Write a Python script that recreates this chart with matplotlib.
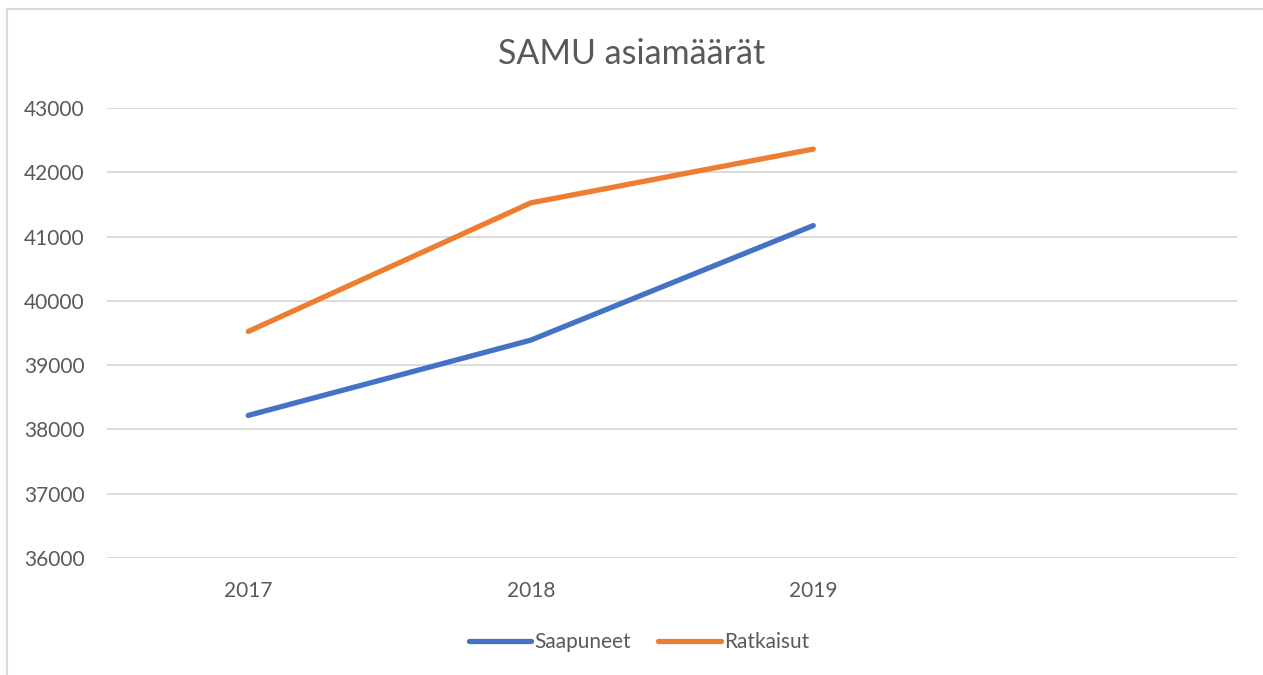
import matplotlib
matplotlib.use("Agg")
import matplotlib.pyplot as plt
from matplotlib.patches import Rectangle

categories = ["2017", "2018", "2019", ""]
saapuneet = [38218, 39389, 41171]
ratkaisut = [39524, 41524, 42361]
yticks = [36000, 37000, 38000, 39000, 40000, 41000, 42000, 43000]

plt.rcParams['font.family'] = ['Lato', 'DejaVu Sans']
txt = '#595959'

fig = plt.figure(figsize=(12.63, 6.75), dpi=100)
ax = fig.add_axes([107/1263, 1-558/675, (1237-107)/1263, (558-108)/675])

x = list(range(len(categories)))
ax.plot(x[:len(saapuneet)], saapuneet, color='#4472C4', lw=3.8, solid_capstyle='round', label='Saapuneet', zorder=3)
ax.plot(x[:len(ratkaisut)], ratkaisut, color='#ED7D31', lw=3.8, solid_capstyle='round', label='Ratkaisut', zorder=3)

ax.set_xlim(-0.5, len(categories) - 0.5)
ax.set_ylim(yticks[0], yticks[-1])
ax.set_yticks(yticks)
ax.set_yticklabels([str(v) for v in yticks])
ax.set_xticks(x)
ax.set_xticklabels(categories)
ax.tick_params(axis='both', length=0, colors=txt, labelsize=15)
ax.tick_params(axis='y', pad=16)
ax.tick_params(axis='x', pad=16.5)
ax.grid(axis='y', color='#d9d9d9', lw=1.3)
for s in ax.spines.values():
    s.set_visible(False)

fig.text(0.5, 1-54/675, "SAMU asiamäärät", ha='center', va='center', fontsize=24.5, color=txt)

leg = fig.legend(loc='center', bbox_to_anchor=(0.506, 1-642/675), ncol=2, frameon=False,
                 fontsize=15, handlelength=3.0, handletextpad=0.15, columnspacing=1.3)
for t in leg.get_texts():
    t.set_color(txt)

fig.patches.append(Rectangle((7/1263, -0.1), 1.2, 1-9/675+0.1, transform=fig.transFigure,
                             fill=False, edgecolor='#d9d9d9', lw=1.5, zorder=0))

fig.savefig("out.png", dpi=100, facecolor='white')
